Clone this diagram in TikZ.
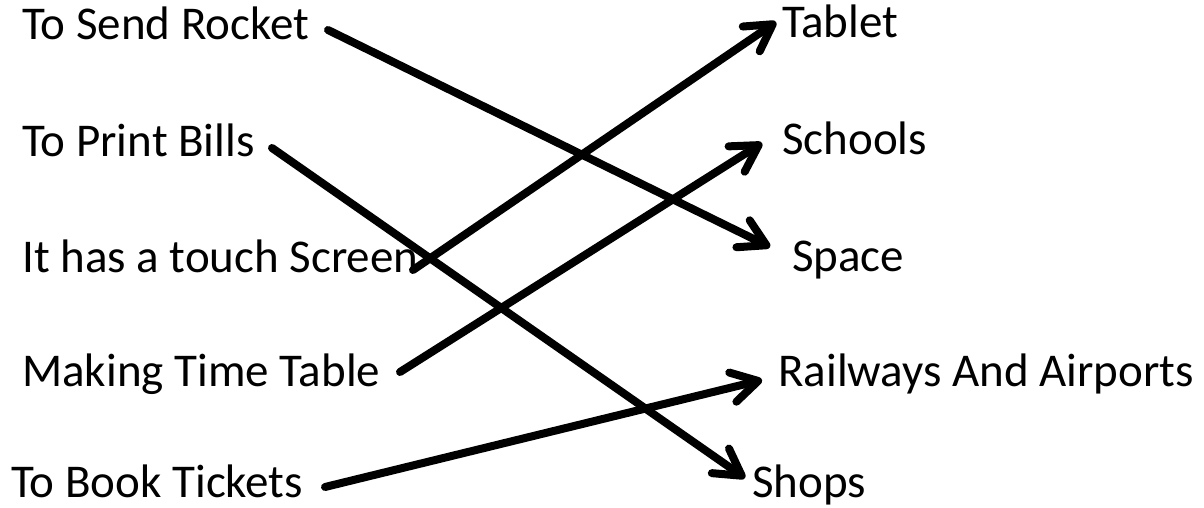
\documentclass[tikz,border=0pt]{standalone}
\usepackage{fontspec}
\setmainfont{Carlito}
\usetikzlibrary{arrows.meta}

\begin{document}
\begin{tikzpicture}[x=1pt,y=-1pt,
	item/.style={anchor=base west, inner sep=0pt, font=\fontsize{47}{54}\selectfont},
	match/.style={line width=8pt, line cap=round, -{Straight Barb[length=26pt,width=30pt,round]}}]
	\useasboundingbox (0,0) rectangle (1204,508);

	% Left column
	\node[item] (rocket) at (22,40)  {To Send Rocket};
	\node[item] (bills)  at (22,156) {To Print Bills};
	\node[item] (touch)  at (22,272) {It has a touch Screen};
	\node[item] (table)  at (22,386) {Making Time Table};
	\node[item] (ticket) at (11,497) {To Book Tickets};

	% Right column
	\node[item] (tablet)  at (782,38)  {Tablet};
	\node[item] (schools) at (782,154) {Schools};
	\node[item] (space)   at (792,271) {Space};
	\node[item] (railway) at (778,386) {Railways And Airports};
	\node[item] (shops)   at (752,497) {Shops};

	% Arrow ends
	\coordinate (rocketT) at (328,30);
	\coordinate (billsT)  at (272,148);
	\coordinate (touchT)  at (413,270);
	\coordinate (tableT)  at (400,372);
	\coordinate (ticketT) at (325,487);
	\coordinate (tabletH)  at (776,22);
	\coordinate (schoolsH) at (762,143);
	\coordinate (spaceH)   at (770,247);
	\coordinate (railwayH) at (762,380);
	\coordinate (shopsH)   at (745,478);

	% Matching arrows
	\draw[match] (rocketT) -- (spaceH);
	\draw[match] (billsT) -- (shopsH);
	\draw[match] (touchT) -- (tabletH);
	\draw[match] (tableT) -- (schoolsH);
	\draw[match] (ticketT) -- (railwayH);
\end{tikzpicture}
\end{document}
